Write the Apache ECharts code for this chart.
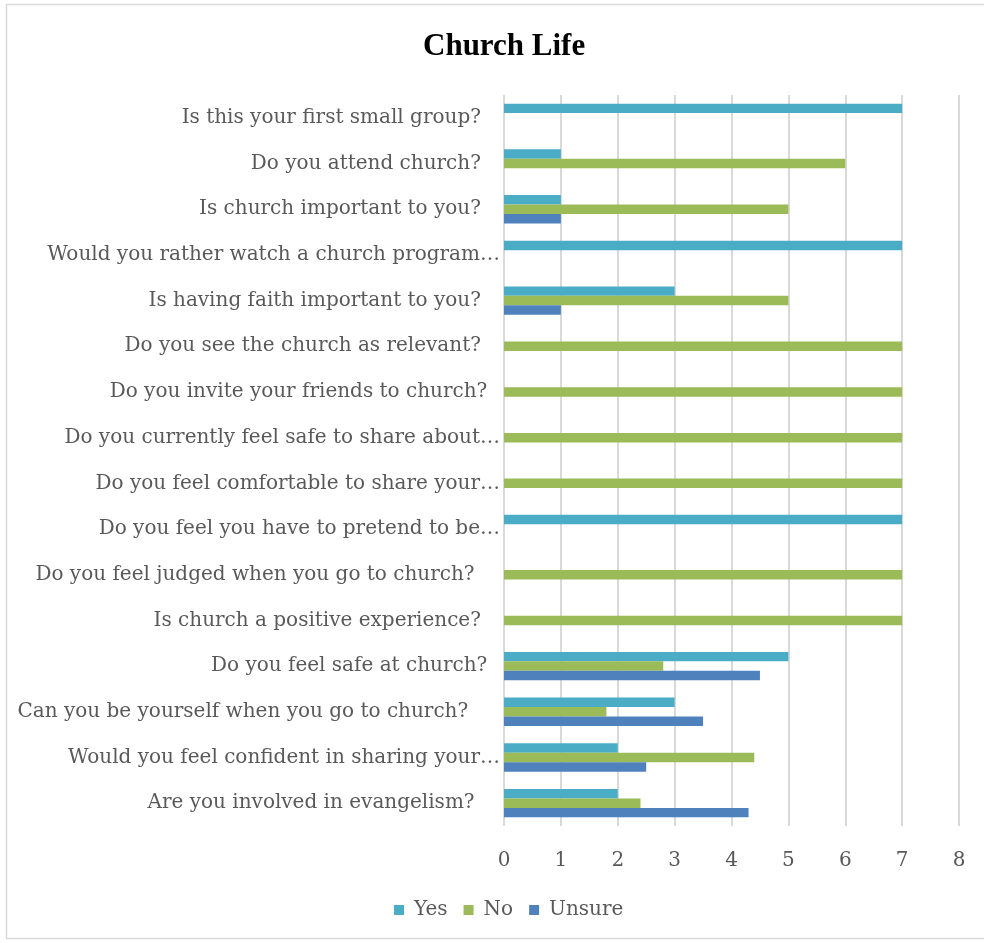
<!DOCTYPE html>
<html>
<head>
<meta charset="utf-8">
<script src="https://cdn.jsdelivr.net/npm/echarts@6/dist/echarts.min.js"></script>
<style>
  html, body { margin: 0; padding: 0; background: #fff; }
  #chart { width: 984px; height: 943px; }
</style>
</head>
<body>
<div id="chart"></div>
<script>
// Survey questions, top to bottom
const questions = [
  'Is this your first small group?   ',
  'Do you attend church?   ',
  'Is church important to you?   ',
  'Would you rather watch a church program…',
  'Is having faith important to you?   ',
  'Do you see the church as relevant?   ',
  'Do you invite your friends to church?  ',
  'Do you currently feel safe to share about…',
  'Do you feel comfortable to share your…',
  'Do you feel you have to pretend to be…',
  'Do you feel judged when you go to church?    ',
  'Is church a positive experience?   ',
  'Do you feel safe at church?  ',
  'Can you be yourself when you go to church?     ',
  'Would you feel confident in sharing your…',
  'Are you involved in evangelism?    '
];

// Number of responses per answer
const yesCounts    = [7, 1, 1, 7, 3, 0, 0, 0, 0, 7, 0, 0, 5, 3, 2, 2];
const noCounts     = [0, 6, 5, 0, 5, 7, 7, 7, 7, 0, 7, 7, 2.8, 1.8, 4.4, 2.4];
const unsureCounts = [0, 0, 1, 0, 1, 0, 0, 0, 0, 0, 0, 0, 4.5, 3.5, 2.5, 4.3];

const xTicks = [0, 1, 2, 3, 4, 5, 6, 7, 8];

const labelFont = 'DejaVu Serif';
const chart = echarts.init(document.getElementById('chart'));

chart.setOption({
  backgroundColor: '#fff',
  animation: false,
  graphic: [{
    type: 'rect',
    shape: { x: 6.5, y: 4.5, width: 1000, height: 934 },
    style: { fill: 'none', stroke: '#d9d9d9', lineWidth: 1.5 },
    silent: true
  }],
  title: {
    text: 'Church Life',
    left: 418,
    top: 26,
    textStyle: {
      fontFamily: 'Liberation Serif',
      fontWeight: 'bold',
      fontSize: 31,
      color: '#000'
    }
  },
  legend: {
    bottom: 18,
    left: 389,
    itemWidth: 10,
    itemHeight: 10,
    itemGap: 16,
    icon: 'rect',
    textStyle: { fontFamily: labelFont, fontSize: 20, color: '#595959', padding: [0, 0, 0, 5] },
    data: ['Yes', 'No', 'Unsure']
  },
  grid: {
    left: 504,
    right: 25,
    top: 95,
    bottom: 117,
    containLabel: false
  },
  xAxis: {
    type: 'value',
    min: xTicks[0],
    max: xTicks[xTicks.length - 1],
    interval: 1,
    axisLine: { show: false },
    axisTick: { show: false },
    axisLabel: {
      margin: 25,
      fontFamily: labelFont,
      fontSize: 20,
      color: '#595959'
    },
    splitLine: { lineStyle: { color: '#d9d9d9', width: 2 } }
  },
  yAxis: {
    type: 'category',
    inverse: true,
    data: questions,
    axisLine: { show: false },
    axisTick: { show: false },
    axisLabel: {
      margin: 4,
      fontFamily: labelFont,
      fontSize: 20,
      color: '#595959'
    }
  },
  series: [
    { name: 'Yes', type: 'bar', data: yesCounts, barGap: '0%', barCategoryGap: '38%',
      itemStyle: { color: '#4BACC6' } },
    { name: 'No', type: 'bar', data: noCounts, barGap: '0%', barCategoryGap: '38%',
      itemStyle: { color: '#9BBB59' } },
    { name: 'Unsure', type: 'bar', data: unsureCounts, barGap: '0%', barCategoryGap: '38%',
      itemStyle: { color: '#4F81BD' } }
  ]
});
</script>
</body>
</html>
